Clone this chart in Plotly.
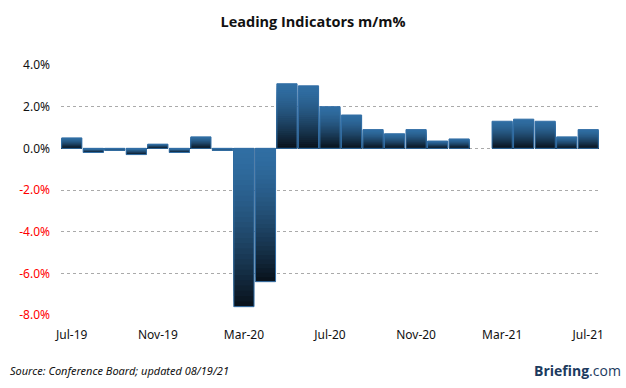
import plotly.graph_objects as go

months = ["Jul-19","Aug-19","Sep-19","Oct-19","Nov-19","Dec-19","Jan-20","Feb-20","Mar-20","Apr-20",
          "May-20","Jun-20","Jul-20","Aug-20","Sep-20","Oct-20","Nov-20","Dec-20","Jan-21","Feb-21",
          "Mar-21","Apr-21","May-21","Jun-21","Jul-21"]
values = [0.5, -0.2, -0.1, -0.3, 0.2, -0.2, 0.55, -0.1, -7.6, -6.4,
          3.1, 3.0, 2.0, 1.6, 0.9, 0.7, 0.9, 0.35, 0.45, 0.0,
          1.3, 1.4, 1.3, 0.55, 0.9]
xtick_labels = ["Jul-19", "Nov-19", "Mar-20", "Jul-20", "Nov-20", "Mar-21", "Jul-21"]
ytick_vals = [-8, -6, -4, -2, 0, 2, 4]

TOP = (48, 110, 163)
BOT = (8, 17, 26)

def grad(f):
    t = f ** 1.5
    c = [round(TOP[i] + (BOT[i] - TOP[i]) * t) for i in range(3)]
    return f"rgb({c[0]},{c[1]},{c[2]})"

xs = list(range(len(months)))
N = 30
fig = go.Figure()
for k in range(N):
    ys, cols = [], []
    for v in values:
        ys.append(v * (N - k) / N)
        if v >= 0:
            f = (k + 0.5) / N
        else:
            f = 1 - (k + 0.5) / N
        cols.append(grad(f))
    fig.add_trace(go.Bar(x=xs, y=ys, width=0.94,
                         marker=dict(color=cols, line=dict(width=0)),
                         hoverinfo="skip", showlegend=False))

outline_vals = [v if v != 0 else None for v in values]
fig.add_trace(go.Bar(x=xs, y=outline_vals, width=0.94,
                     marker=dict(color="rgba(0,0,0,0)", line=dict(color="#336fa6", width=1)),
                     hoverinfo="skip", showlegend=False))

def ylab(v):
    s = f"{v:.1f}%"
    if v < 0:
        return f"<span style='color:#ff0000'>{s}</span>"
    return s

fig.update_layout(
    barmode="overlay",
    width=626, height=388,
    margin=dict(l=61, r=27, t=65, b=73),
    paper_bgcolor="white", plot_bgcolor="white",
    font=dict(family="Noto Sans", size=12, color="#111111"),
    title=dict(text="<b>Leading Indicators m/m%</b>", x=0.5, xanchor="center",
               y=1 - 22 / 388, yanchor="middle",
               font=dict(family="Open Sans", size=14.5, color="#111111")),
    xaxis=dict(range=[-0.5, len(months) - 0.5], tickmode="array",
               tickvals=[months.index(m) for m in xtick_labels], ticktext=xtick_labels,
               showgrid=False, zeroline=False, showline=False, ticks="",
               ticklabelstandoff=11, tickfont=dict(size=12, color="#111111")),
    yaxis=dict(range=[-8, 4], tickmode="array", tickvals=ytick_vals,
               ticktext=[ylab(v) for v in ytick_vals],
               showgrid=True, gridcolor="#aaaaaa", griddash="dot", gridwidth=1,
               zeroline=False, showline=False, ticks="",
               ticklabelstandoff=10, tickfont=dict(size=12, color="#111111")),
    hovermode=False,
    annotations=[
        dict(text="<i>Source: Conference Board; updated 08/19/21</i>", xref="paper", yref="paper",
             x=-53 / 538, y=-(370 - 315) / 250, xanchor="left", yanchor="middle",
             showarrow=False, font=dict(family="Noto Sans", size=11, color="#111111")),
        dict(text="<b>Briefing</b>.com", xref="paper", yref="paper",
             x=(623 - 61) / 538, y=-(370 - 315) / 250, xanchor="right", yanchor="middle",
             showarrow=False, font=dict(family="Open Sans", size=14, color="#1c3a5e")),
    ],
)

fig.write_html("out.html", config={"displayModeBar": False},
               post_script="document.body.style.margin='0';")
